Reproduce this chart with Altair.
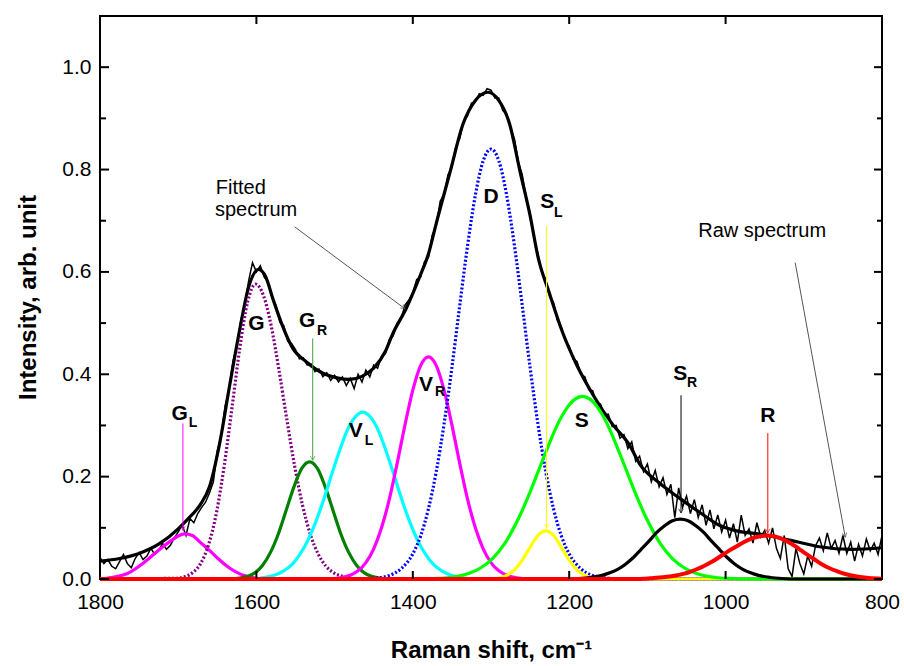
import altair as alt
import pandas as pd

# ---------------- data ----------------
raw_x = list(range(1800, 799, -5))
raw_y = [
    0.042, 0.030, 0.038, 0.025, 0.020, 0.034, 0.048, 0.030, 0.022, 0.040,
    0.052, 0.038, 0.045, 0.060, 0.048, 0.055, 0.070, 0.058, 0.066, 0.080,
    0.092, 0.105, 0.085, 0.118, 0.110, 0.128, 0.140, 0.150, 0.168, 0.190,
    0.250, 0.280, 0.338, 0.370, 0.425, 0.455, 0.505, 0.535, 0.582, 0.618,
    0.600, 0.612, 0.590, 0.580, 0.548, 0.535, 0.502, 0.495, 0.465, 0.460,
    0.448, 0.430, 0.432, 0.418, 0.420, 0.405, 0.410, 0.395, 0.403, 0.388,
    0.398, 0.385, 0.395, 0.378, 0.392, 0.372, 0.400, 0.385, 0.408, 0.395,
    0.418, 0.412, 0.435, 0.440, 0.468, 0.475, 0.500, 0.508, 0.535, 0.545,
    0.560, 0.585, 0.590, 0.620, 0.628, 0.672, 0.690, 0.738, 0.752, 0.790,
    0.805, 0.845, 0.860, 0.895, 0.905, 0.930, 0.932, 0.948, 0.945, 0.958,
    0.955, 0.940, 0.940, 0.915, 0.908, 0.880, 0.860, 0.815, 0.790, 0.745,
    0.715, 0.665, 0.635, 0.600, 0.585, 0.552, 0.540, 0.505, 0.492, 0.465,
    0.455, 0.430, 0.425, 0.400, 0.395, 0.370, 0.368, 0.345, 0.342, 0.320,
    0.322, 0.298, 0.300, 0.275, 0.282, 0.255, 0.268, 0.230, 0.240, 0.210,
    0.225, 0.190, 0.212, 0.180, 0.198, 0.165, 0.185, 0.120, 0.178, 0.140,
    0.162, 0.128, 0.155, 0.120, 0.145, 0.105, 0.135, 0.098, 0.125, 0.092,
    0.115, 0.080, 0.108, 0.072, 0.125, 0.085, 0.098, 0.070, 0.110, 0.082,
    0.095, 0.070, 0.100, 0.060, 0.040, 0.085, 0.020, 0.005, 0.060, 0.030,
    0.010, 0.045, 0.025, 0.065, 0.080, 0.055, 0.090, 0.060, 0.075, 0.050,
    0.085, 0.050, 0.072, 0.035, 0.068, 0.045, 0.078, 0.055, 0.070, 0.048,
    0.085,
]

fit_x = [1800, 1775, 1750, 1725, 1700, 1689, 1672, 1660, 1647, 1634, 1621, 1610, 1597, 1588, 1579,
         1566, 1554, 1536, 1515, 1497, 1481, 1465, 1450, 1435, 1426, 1408, 1390, 1380, 1370, 1352,
         1336, 1320, 1304, 1290, 1276, 1263, 1250, 1240, 1225, 1209, 1191, 1170, 1145, 1123, 1110,
         1085, 1059, 1033, 1008, 986, 953, 915, 880, 838, 800]
fit_y = [0.035, 0.040, 0.050, 0.068, 0.098, 0.115, 0.145, 0.180, 0.265, 0.380, 0.490, 0.570, 0.605, 0.590, 0.548,
         0.492, 0.452, 0.424, 0.402, 0.393, 0.390, 0.396, 0.412, 0.445, 0.478, 0.530, 0.595, 0.635, 0.695, 0.797,
         0.888, 0.935, 0.951, 0.935, 0.888, 0.797, 0.710, 0.630, 0.557, 0.484, 0.420, 0.361, 0.303, 0.262, 0.225,
         0.188, 0.158, 0.130, 0.105, 0.094, 0.087, 0.075, 0.063, 0.058, 0.061]

GL_x = [1800, 1785, 1762, 1750, 1736, 1722, 1710, 1700, 1692, 1682, 1672, 1660, 1647, 1634, 1621, 1605, 1590, 800]
GL_y = [0, 0.003, 0.013, 0.025, 0.042, 0.060, 0.074, 0.084, 0.088, 0.085, 0.072, 0.056, 0.037, 0.021, 0.010, 0.003, 0, 0]

G_x = [1800, 1701, 1691, 1681, 1671, 1661, 1651, 1641, 1631, 1621, 1611, 1601, 1591, 1581, 1571, 1561,
       1551, 1541, 1531, 1521, 1511, 1501, 1486, 1471, 800]
G_y = [0, 0.0015, 0.005, 0.013, 0.031, 0.068, 0.130, 0.223, 0.337, 0.454, 0.543, 0.576, 0.554, 0.494, 0.407, 0.311,
       0.220, 0.144, 0.087, 0.049, 0.025, 0.012, 0.004, 0, 0]

GR_x = [1800, 1632, 1622, 1612, 1602, 1592, 1582, 1572, 1562, 1552, 1542, 1532, 1522, 1512, 1502, 1492,
        1482, 1472, 1462, 1452, 1442, 1432, 800]
GR_y = [0, 0, 0.002, 0.005, 0.012, 0.027, 0.052, 0.088, 0.134, 0.180, 0.216, 0.229, 0.216, 0.180, 0.134, 0.088,
        0.052, 0.027, 0.012, 0.005, 0.002, 0, 0]

VL_x = [1800, 1614, 1594, 1579, 1564, 1554, 1544, 1534, 1524, 1514, 1504, 1494, 1484, 1474, 1464,
        1454, 1444, 1434, 1424, 1414, 1404, 1394, 1384, 1374, 1364, 1349, 1334, 1314, 800]
VL_y = [0, 0, 0.002, 0.0064, 0.017, 0.029, 0.049, 0.076, 0.112, 0.155, 0.203, 0.249, 0.290, 0.316, 0.326,
        0.316, 0.290, 0.249, 0.203, 0.155, 0.112, 0.076, 0.049, 0.029, 0.017, 0.0064, 0.002, 0, 0]

VR_x = [1800, 1510, 1495, 1480, 1470, 1460, 1450, 1440, 1430, 1420, 1410, 1400, 1390, 1380,
        1370, 1360, 1350, 1340, 1330, 1320, 1310, 1300, 1290, 1280, 1265, 1250, 800]
VR_y = [0, 0, 0.002, 0.0074, 0.016, 0.032, 0.059, 0.100, 0.156, 0.226, 0.301, 0.369, 0.417, 0.434,
        0.417, 0.369, 0.301, 0.226, 0.156, 0.100, 0.059, 0.032, 0.016, 0.0074, 0.002, 0, 0]

D_x = [1800, 1470, 1450, 1430, 1415, 1400, 1390, 1380, 1370, 1360, 1350, 1340, 1330, 1320, 1310, 1300,
       1290, 1280, 1270, 1260, 1250, 1240, 1230, 1220, 1210, 1200, 1185, 1170, 1150, 1130, 800]
D_y = [0, 0, 0.0015, 0.007, 0.020, 0.049, 0.084, 0.137, 0.210, 0.303, 0.413, 0.534, 0.651, 0.750, 0.817, 0.840,
       0.817, 0.750, 0.651, 0.534, 0.413, 0.303, 0.210, 0.137, 0.084, 0.049, 0.020, 0.007, 0.0015, 0, 0]

SL_x = [1800, 1305, 1290, 1280, 1270, 1260, 1250, 1240, 1230, 1220, 1210, 1200, 1190, 1180, 1170, 1155, 800]
SL_y = [0, 0, 0.002, 0.007, 0.018, 0.037, 0.062, 0.085, 0.094, 0.085, 0.062, 0.037, 0.018, 0.007, 0.002, 0, 0]

S_x = [1800, 1393, 1373, 1353, 1333, 1313, 1298, 1283, 1273, 1263, 1253, 1243, 1233, 1223, 1213, 1203, 1193, 1183,
       1173, 1163, 1153, 1143, 1133, 1123, 1113, 1103, 1093, 1083, 1068, 1053, 1033, 1013, 993, 973, 800]
S_y = [0, 0, 0.001, 0.003, 0.0087, 0.022, 0.040, 0.068, 0.094, 0.124, 0.159, 0.197, 0.236, 0.274, 0.308, 0.334, 0.351, 0.357,
       0.351, 0.334, 0.308, 0.274, 0.236, 0.197, 0.159, 0.124, 0.094, 0.068, 0.040, 0.022, 0.0087, 0.003, 0.001, 0, 0]

SR_x = [1800, 1208, 1188, 1173, 1158, 1148, 1138, 1128, 1118, 1108, 1098, 1088, 1078, 1068, 1058,
        1048, 1038, 1028, 1018, 1008, 998, 988, 978, 968, 958, 943, 928, 908, 800]
SR_y = [0, 0, 0.001, 0.003, 0.007, 0.012, 0.019, 0.029, 0.042, 0.058, 0.074, 0.091, 0.104, 0.114, 0.117,
        0.114, 0.104, 0.091, 0.074, 0.058, 0.042, 0.029, 0.019, 0.012, 0.007, 0.003, 0.001, 0, 0]

R_x = [1800, 1117, 1097, 1077, 1062, 1047, 1037, 1027, 1017, 1007, 997, 987, 977, 967, 957, 947,
       937, 927, 917, 907, 897, 887, 877, 867, 857, 847, 832, 817, 800]
R_y = [0, 0, 0.0013, 0.0037, 0.0074, 0.013, 0.019, 0.026, 0.034, 0.044, 0.054, 0.063, 0.072, 0.079, 0.083, 0.085,
       0.083, 0.078, 0.070, 0.060, 0.049, 0.039, 0.029, 0.021, 0.015, 0.0097, 0.0048, 0.0021, 0.0007]

# tick values
x_ticks = [1800, 1600, 1400, 1200, 1000, 800]
x_inner_ticks = [1600, 1400, 1200, 1000]
y_major = [0.0, 0.2, 0.4, 0.6, 0.8, 1.0]
y_minor = [0.1, 0.3, 0.5, 0.7, 0.9]

# peak labels
lab_text = ["G", "G", "G", "V", "V", "D", "S", "S", "S", "R"]
lab_x = [1698, 1600, 1535, 1473, 1383, 1300, 1228, 1184, 1058, 946]
lab_y = [0.322, 0.499, 0.505, 0.289, 0.380, 0.747, 0.737, 0.308, 0.400, 0.318]
sub_text = ["L", "R", "L", "R", "L", "R"]
sub_x = [1681, 1516, 1456, 1365, 1214, 1043]
sub_y = [0.304, 0.485, 0.269, 0.365, 0.715, 0.382]

# arrows
arr_x1 = [1694, 1528, 1229, 1057, 946, 1551, 911]
arr_y1 = [0.304, 0.470, 0.690, 0.359, 0.285, 0.688, 0.618]
arr_x2 = [1694, 1528, 1229, 1057, 946, 1410, 847]
arr_y2 = [0.095, 0.232, 0.099, 0.129, 0.090, 0.528, 0.082]
arr_col = ["#ff00ff", "#3aa03a", "#ffff00", "#000000", "#ff0000", "#555555", "#555555"]
arr_ang = [0, 0, 0, 0, 0, 306.7, 349.7]

note_text = ["Fitted", "spectrum", "Raw spectrum"]
note_x = [1652, 1653, 1035]
note_y = [0.764, 0.720, 0.680]

FONT = "Liberation Sans"
W, H = 782, 563

xaxis = alt.Axis(values=x_ticks, format="d", ticks=False, domain=False, grid=False,
                 labelFont=FONT, labelFontSize=21, labelColor="black", labelPadding=12,
                 labelFlush=False, labelOverlap=False,
                 title="Raman shift, cm\u207b\u00b9", titleFont=FONT, titleFontSize=24,
                 titleFontWeight="bold", titleColor="black", titleX=391, titleY=71,
                 titleBaseline="middle", titleAlign="center")
yaxis = alt.Axis(values=y_major, format=".1f", ticks=False, domain=False, grid=False,
                 labelFont=FONT, labelFontSize=21, labelColor="black", labelPadding=9,
                 labelFlush=False, labelOverlap=False,
                 title="Intensity, arb. unit", titleFont=FONT, titleFontSize=24,
                 titleFontWeight="bold", titleColor="black", titleX=-72, titleY=281,
                 titleAngle=270, titleBaseline="middle", titleAlign="center")

xs = alt.Scale(domain=[800, 1800], reverse=True, nice=False, zero=False)
ys = alt.Scale(domain=[0, 1.1], nice=False, zero=False)
X = alt.X("x:Q", scale=xs, axis=xaxis)
Y = alt.Y("y:Q", scale=ys, axis=yaxis)

layers = []

# raw spectrum and fitted spectrum
layers.append(alt.Chart(pd.DataFrame({"x": raw_x, "y": raw_y})).mark_line(
    color="black", strokeWidth=1.5).encode(x=X, y=Y))
layers.append(alt.Chart(pd.DataFrame({"x": fit_x, "y": fit_y})).mark_line(
    color="black", strokeWidth=3.2, interpolate="monotone").encode(x=X, y=Y))

comps = [
    (GL_x, GL_y, "#ff00ff", False),
    (G_x, G_y, "#800080", True),
    (GR_x, GR_y, "#008000", False),
    (VL_x, VL_y, "#00ffff", False),
    (VR_x, VR_y, "#ff00ff", False),
    (D_x, D_y, "#0000ff", True),
    (SL_x, SL_y, "#ffff00", False),
    (S_x, S_y, "#00ff00", False),
    (SR_x, SR_y, "#000000", False),
    (R_x, R_y, "#ff0000", False),
]
for cx, cy, col, dashed in comps:
    kw = dict(color=col, strokeWidth=3.2, interpolate="monotone")
    if dashed:
        kw["strokeDash"] = [2, 2]
    if col == "#ff0000":
        kw["strokeWidth"] = 4
    layers.append(alt.Chart(pd.DataFrame({"x": cx, "y": cy})).mark_line(**kw).encode(x=X, y=Y))

# inward ticks
def vt(vals, x0, x1):
    return alt.Chart(pd.DataFrame({"y": vals})).mark_rule(color="black", strokeWidth=2).encode(
        y=Y, x=alt.value(x0), x2=alt.value(x1))

def ht(vals, y0, y1):
    return alt.Chart(pd.DataFrame({"x": vals})).mark_rule(color="black", strokeWidth=2).encode(
        x=X, y=alt.value(y0), y2=alt.value(y1))

layers += [vt(y_major, 0, 9), vt(y_minor, 0, 6), vt(y_major, W, W - 8), vt(y_minor, W, W - 5),
           ht(x_inner_ticks, 0, 8), ht(x_inner_ticks, H, H - 8)]

# arrows
adf = pd.DataFrame({"x": arr_x1, "y": arr_y1, "x2": arr_x2, "y2": arr_y2, "c": arr_col, "a": arr_ang})
layers.append(alt.Chart(adf).mark_rule(strokeWidth=1).encode(
    x=X, y=Y, x2="x2:Q", y2="y2:Q", color=alt.Color("c:N", scale=None)))
hdf = pd.DataFrame({"x": arr_x2, "y": arr_y2, "c": arr_col, "a": arr_ang})
layers.append(alt.Chart(hdf).mark_point(shape="M-0.55,-1L0,0L0.55,-1", size=70, filled=False,
                                         strokeWidth=1).encode(
    x=X, y=Y, color=alt.Color("c:N", scale=None), angle=alt.Angle("a:Q", scale=None)))

# labels
ldf = pd.DataFrame({"x": lab_x, "y": lab_y, "t": lab_text})
layers.append(alt.Chart(ldf).mark_text(font=FONT, fontSize=21, fontWeight="bold", color="black",
                                        align="center", baseline="middle").encode(x=X, y=Y, text="t:N"))
sdf = pd.DataFrame({"x": sub_x, "y": sub_y, "t": sub_text})
layers.append(alt.Chart(sdf).mark_text(font=FONT, fontSize=14, fontWeight="bold", color="black",
                                        align="center", baseline="middle").encode(x=X, y=Y, text="t:N"))
ndf = pd.DataFrame({"x": note_x, "y": note_y, "t": note_text})
layers.append(alt.Chart(ndf).mark_text(font=FONT, fontSize=20, color="black",
                                        align="left", baseline="middle").encode(x=X, y=Y, text="t:N"))

chart = alt.layer(*layers).properties(
    width=W, height=H,
    autosize=alt.AutoSizeParams(type="none"),
    padding={"left": 100, "top": 16, "right": 22, "bottom": 87},
    background="white",
).configure_view(stroke="black", strokeWidth=2)

chart.save("out.html", embed_options={"renderer": "svg", "actions": False})
